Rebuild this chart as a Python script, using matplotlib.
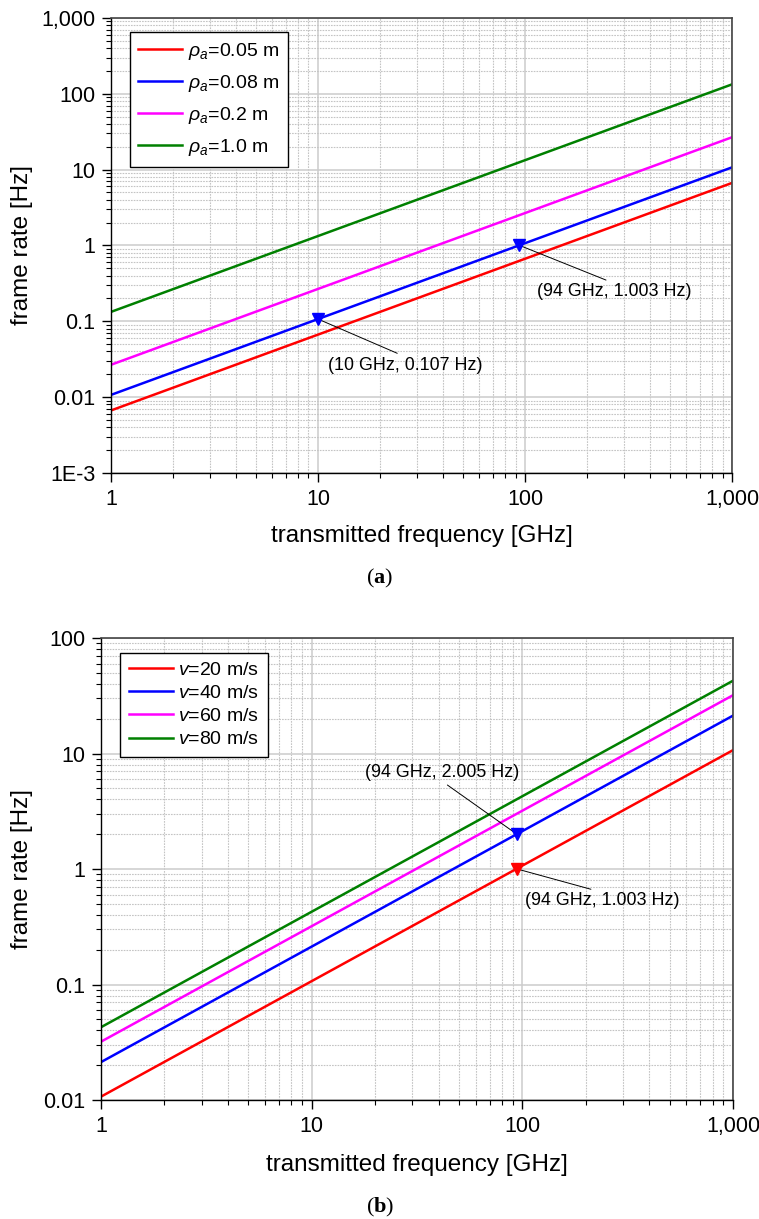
import numpy as np
import matplotlib
matplotlib.use('Agg')
import matplotlib.pyplot as plt
from matplotlib.ticker import FixedLocator, FuncFormatter, NullFormatter

plt.rcParams['font.family'] = ['Liberation Sans', 'DejaVu Sans']
plt.rcParams['mathtext.fontset'] = 'custom'
plt.rcParams['mathtext.rm'] = 'Liberation Sans'
plt.rcParams['mathtext.it'] = 'Liberation Sans:italic'
plt.rcParams['mathtext.bf'] = 'Liberation Serif:bold'

# frequency range (GHz), lines are straight on log-log so endpoints are enough
freq = [1, 1000]
colors = ['#ff0000', '#0000ff', '#ff00ff', '#008000']

# panel (a): aperture size
labels_a = [r'$\rho_a$=0.05 m', r'$\rho_a$=0.08 m', r'$\rho_a$=0.2 m', r'$\rho_a$=1.0 m']
rate_a = [[0.00667, 6.67], [0.0107, 10.7], [0.0267, 26.7], [0.133, 133.0]]

# panel (b): platform velocity
labels_b = [r'$v$=20 m/s', r'$v$=40 m/s', r'$v$=60 m/s', r'$v$=80 m/s']
rate_b = [[0.0107, 10.7], [0.0213, 21.3], [0.032, 32.0], [0.0427, 42.7]]

# marked points: (freq, rate, color index, label)
marks_a = [(10, 0.107, 1, '(10 GHz, 0.107 Hz)'), (94, 1.003, 1, '(94 GHz, 1.003 Hz)')]
marks_b = [(94, 2.005, 1, '(94 GHz, 2.005 Hz)'), (94, 1.003, 0, '(94 GHz, 1.003 Hz)')]

yticks_a = [1e-3, 0.01, 0.1, 1, 10, 100, 1000]
ytlab_a = ['1E-3', '0.01', '0.1', '1', '10', '100', '1,000']
yticks_b = [0.01, 0.1, 1, 10, 100]
ytlab_b = ['0.01', '0.1', '1', '10', '100']
xticks = [1, 10, 100, 1000]
xtlab = ['1', '10', '100', '1,000']


def style_axes(ax, yticks, ytlab):
    ax.set_xscale('log')
    ax.set_yscale('log')
    ax.set_xlim(1, 1000)
    ax.set_ylim(yticks[0], yticks[-1])
    ax.xaxis.set_major_locator(FixedLocator(xticks))
    ax.xaxis.set_major_formatter(FuncFormatter(lambda v, p: xtlab[xticks.index(v)] if v in xticks else ''))
    ax.yaxis.set_major_locator(FixedLocator(yticks))
    ax.yaxis.set_major_formatter(FuncFormatter(lambda v, p: ytlab[yticks.index(v)] if v in yticks else ''))
    xm = [d * k for d in [1, 10, 100] for k in range(2, 10)]
    ym = [d * k for d in yticks[:-1] for k in range(2, 10)]
    ax.xaxis.set_minor_locator(FixedLocator(xm))
    ax.yaxis.set_minor_locator(FixedLocator(ym))
    ax.xaxis.set_minor_formatter(NullFormatter())
    ax.yaxis.set_minor_formatter(NullFormatter())
    ax.grid(True, which='major', color='#cccccc', lw=1.1, ls='-')
    ax.grid(True, which='minor', color='#c4c4c4', lw=0.8, ls=(0, (1.5, 1.0)))
    ax.set_axisbelow(True)
    ax.tick_params(which='major', direction='out', length=6.7, width=1.0, labelsize=15.5, pad=4.5)
    ax.tick_params(which='minor', direction='out', length=3.6, width=0.8)
    ax.tick_params(top=False, right=False)
    for s in ['left', 'bottom']:
        ax.spines[s].set_color('black')
        ax.spines[s].set_linewidth(1.0)
    for s in ['top', 'right']:
        ax.spines[s].set_color('#444444')
        ax.spines[s].set_linewidth(1.2)


def draw_panel(ax, rates, labels, marks, texts, yticks, ytlab, labsp):
    style_axes(ax, yticks, ytlab)
    for r, lab, c in zip(rates, labels, colors):
        ax.plot(freq, r, color=c, lw=1.8, label=lab)
    for (f, v, ci, txt), (tx, ty, rel) in zip(marks, texts):
        ax.plot([f], [v], marker='v', color=colors[ci], ms=9, ls='none', zorder=5)
        ax.annotate(txt, xy=(f, v), xycoords='data', xytext=(tx, ty), textcoords='axes fraction',
                    ha='left', va='center', fontsize=12.9,
                    arrowprops=dict(arrowstyle='-', color='black', lw=0.7, relpos=rel,
                                    shrinkA=1, shrinkB=2))
    leg = ax.legend(loc='upper left', bbox_to_anchor=(0.03, 0.968), borderaxespad=0,
                    fontsize=14, fancybox=False, framealpha=1, edgecolor='black',
                    handlelength=2.27, handletextpad=0.26, labelspacing=labsp, borderpad=0.45)
    leg.get_frame().set_linewidth(1.0)
    ax.set_xlabel('transmitted frequency [GHz]', fontsize=17.5)
    ax.set_ylabel('frame rate [Hz]', fontsize=17.5)


fig = plt.figure(figsize=(7.59, 12.19), dpi=100)
ax1 = fig.add_axes([0.1462, 0.6120, 0.8182, 0.3733])
ax2 = fig.add_axes([0.1331, 0.0976, 0.8327, 0.3790])

draw_panel(ax1, rate_a, labels_a, marks_a,
           [(0.349, 0.237, (0.5, 1.0)), (0.686, 0.398, (0.5, 1.0))],
           yticks_a, ytlab_a, 0.56)
draw_panel(ax2, rate_b, labels_b, marks_b,
           [(0.418, 0.708, (0.5, 0.0)), (0.671, 0.431, (0.5, 1.0))],
           yticks_b, ytlab_b, 0.28)

ax1.xaxis.set_label_coords(0.5, -0.115)
ax2.xaxis.set_label_coords(0.5, -0.116)
ax1.yaxis.set_label_coords(-0.126, 0.5)
ax2.yaxis.set_label_coords(-0.108, 0.5)

fig.text(380 / 759, 1 - 578 / 1219, r'($\mathbf{a}$)', ha='center', va='center',
         fontsize=16, family='Liberation Serif')
fig.text(380 / 759, 1 - 1207 / 1219, r'($\mathbf{b}$)', ha='center', va='center',
         fontsize=16, family='Liberation Serif')

fig.savefig('out.png', dpi=100)
